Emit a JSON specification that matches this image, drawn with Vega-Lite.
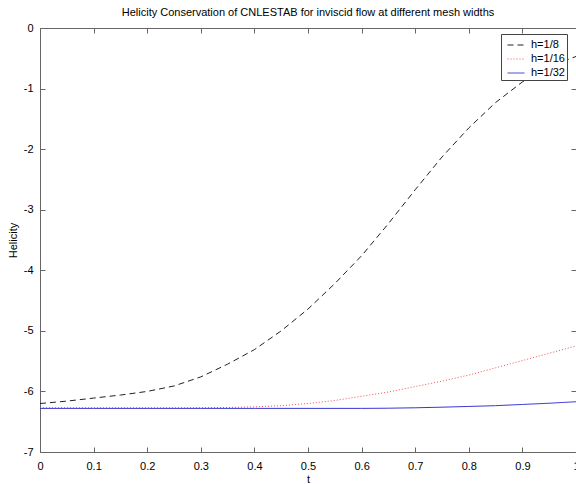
{
  "$schema": "https://vega.github.io/schema/vega-lite/v6.json",
  "width": 536,
  "height": 424,
  "autosize": {"type": "none"},
  "padding": {"left": 40, "top": 28, "right": 0, "bottom": 32},
  "background": "white",
  "title": {"text": "Helicity Conservation of CNLESTAB for inviscid flow at different mesh widths", "font": "Liberation Sans", "fontSize": 11, "fontWeight": "normal", "color": "#000", "offset": 4, "anchor": "middle"},
  "data": {"values": [
    {"t": 0, "v": -6.2, "s": "h=1/8"}, {"t": 0.05, "v": -6.16, "s": "h=1/8"}, {"t": 0.1, "v": -6.11, "s": "h=1/8"}, {"t": 0.15, "v": -6.06, "s": "h=1/8"}, {"t": 0.2, "v": -6.0, "s": "h=1/8"}, {"t": 0.25, "v": -5.91, "s": "h=1/8"}, {"t": 0.3, "v": -5.76, "s": "h=1/8"}, {"t": 0.35, "v": -5.55, "s": "h=1/8"}, {"t": 0.4, "v": -5.31, "s": "h=1/8"}, {"t": 0.45, "v": -5.0, "s": "h=1/8"}, {"t": 0.5, "v": -4.64, "s": "h=1/8"}, {"t": 0.55, "v": -4.22, "s": "h=1/8"}, {"t": 0.6, "v": -3.76, "s": "h=1/8"}, {"t": 0.65, "v": -3.23, "s": "h=1/8"}, {"t": 0.7, "v": -2.67, "s": "h=1/8"}, {"t": 0.75, "v": -2.13, "s": "h=1/8"}, {"t": 0.8, "v": -1.65, "s": "h=1/8"}, {"t": 0.85, "v": -1.23, "s": "h=1/8"}, {"t": 0.9, "v": -0.89, "s": "h=1/8"}, {"t": 0.95, "v": -0.64, "s": "h=1/8"}, {"t": 1.0, "v": -0.47, "s": "h=1/8"},
    {"t": 0, "v": -6.27, "s": "h=1/16"}, {"t": 0.05, "v": -6.27, "s": "h=1/16"}, {"t": 0.1, "v": -6.27, "s": "h=1/16"}, {"t": 0.15, "v": -6.27, "s": "h=1/16"}, {"t": 0.2, "v": -6.27, "s": "h=1/16"}, {"t": 0.25, "v": -6.27, "s": "h=1/16"}, {"t": 0.3, "v": -6.268, "s": "h=1/16"}, {"t": 0.35, "v": -6.265, "s": "h=1/16"}, {"t": 0.4, "v": -6.255, "s": "h=1/16"}, {"t": 0.45, "v": -6.235, "s": "h=1/16"}, {"t": 0.5, "v": -6.2, "s": "h=1/16"}, {"t": 0.55, "v": -6.15, "s": "h=1/16"}, {"t": 0.6, "v": -6.08, "s": "h=1/16"}, {"t": 0.65, "v": -6.01, "s": "h=1/16"}, {"t": 0.7, "v": -5.92, "s": "h=1/16"}, {"t": 0.75, "v": -5.83, "s": "h=1/16"}, {"t": 0.8, "v": -5.73, "s": "h=1/16"}, {"t": 0.85, "v": -5.61, "s": "h=1/16"}, {"t": 0.9, "v": -5.49, "s": "h=1/16"}, {"t": 0.95, "v": -5.37, "s": "h=1/16"}, {"t": 1.0, "v": -5.25, "s": "h=1/16"},
    {"t": 0, "v": -6.28, "s": "h=1/32"}, {"t": 0.1, "v": -6.28, "s": "h=1/32"}, {"t": 0.2, "v": -6.28, "s": "h=1/32"}, {"t": 0.3, "v": -6.28, "s": "h=1/32"}, {"t": 0.4, "v": -6.28, "s": "h=1/32"}, {"t": 0.5, "v": -6.28, "s": "h=1/32"}, {"t": 0.6, "v": -6.28, "s": "h=1/32"}, {"t": 0.65, "v": -6.277, "s": "h=1/32"}, {"t": 0.7, "v": -6.27, "s": "h=1/32"}, {"t": 0.75, "v": -6.26, "s": "h=1/32"}, {"t": 0.8, "v": -6.248, "s": "h=1/32"}, {"t": 0.85, "v": -6.235, "s": "h=1/32"}, {"t": 0.9, "v": -6.215, "s": "h=1/32"}, {"t": 0.95, "v": -6.195, "s": "h=1/32"}, {"t": 1.0, "v": -6.17, "s": "h=1/32"}
  ]},
  "layer": [
    {
      "mark": {"type": "line", "strokeWidth": 1, "clip": true},
      "encoding": {
        "x": {"field": "t", "type": "quantitative", "scale": {"domain": [0, 1], "nice": false, "zero": false},
              "axis": {"orient": "bottom", "title": "t", "values": [0, 0.1, 0.2, 0.3, 0.4, 0.5, 0.6, 0.7, 0.8, 0.9, 1], "labelExpr": "'' + datum.value", "labelPadding": 13, "titlePadding": 2, "labelFlush": false}},
        "y": {"field": "v", "type": "quantitative", "scale": {"domain": [-7, 0], "nice": false, "zero": false},
              "axis": {"orient": "left", "title": "Helicity", "values": [-7, -6, -5, -4, -3, -2, -1, 0], "labelExpr": "'' + datum.value", "labelPadding": 12, "titlePadding": 5, "labelFlush": false}},
        "color": {"field": "s", "type": "nominal", "sort": ["h=1/8", "h=1/16", "h=1/32"],
                  "scale": {"domain": ["h=1/8", "h=1/16", "h=1/32"], "range": ["#222222", "#f05050", "#3535d0"]},
                  "legend": {"title": null, "labelExpr": "datum.label + '\u00a0'"}},
        "strokeDash": {"field": "s", "type": "nominal", "sort": ["h=1/8", "h=1/16", "h=1/32"],
                  "scale": {"domain": ["h=1/8", "h=1/16", "h=1/32"], "range": [[6, 4], [1, 2], [1, 0]]},
                  "legend": {"title": null, "labelExpr": "datum.label + '\u00a0'"}}
      }
    },
    {
      "mark": {"type": "line", "strokeOpacity": 0},
      "encoding": {
        "x": {"field": "t", "type": "quantitative", "axis": {"orient": "top", "title": null, "labels": false, "values": [0, 0.1, 0.2, 0.3, 0.4, 0.5, 0.6, 0.7, 0.8, 0.9, 1]}},
        "y": {"field": "v", "type": "quantitative", "axis": {"orient": "right", "title": null, "labels": false, "values": [-7, -6, -5, -4, -3, -2, -1, 0]}},
        "detail": {"field": "s"}
      }
    }
  ],
  "resolve": {"axis": {"x": "independent", "y": "independent"}},
  "config": {
    "view": {"stroke": null},
    "axis": {"grid": false, "domainColor": "#666", "tickColor": "#666", "tickSize": -5, "domainWidth": 1, "tickWidth": 1,
             "labelFont": "Liberation Sans", "labelFontSize": 11, "labelColor": "#000",
             "titleFont": "Liberation Sans", "titleFontSize": 11, "titleFontWeight": "normal", "titleColor": "#000"},
    "legend": {"orient": "none", "legendX": 461, "legendY": 6, "fillColor": "white", "strokeColor": "#444", "padding": 2,
               "symbolType": "stroke", "symbolSize": 289, "symbolStrokeWidth": 1, "symbolOffset": 4, "labelOffset": 6, "rowPadding": -3,
               "labelFont": "Liberation Sans", "labelFontSize": 11, "labelColor": "#000"}
  }
}
